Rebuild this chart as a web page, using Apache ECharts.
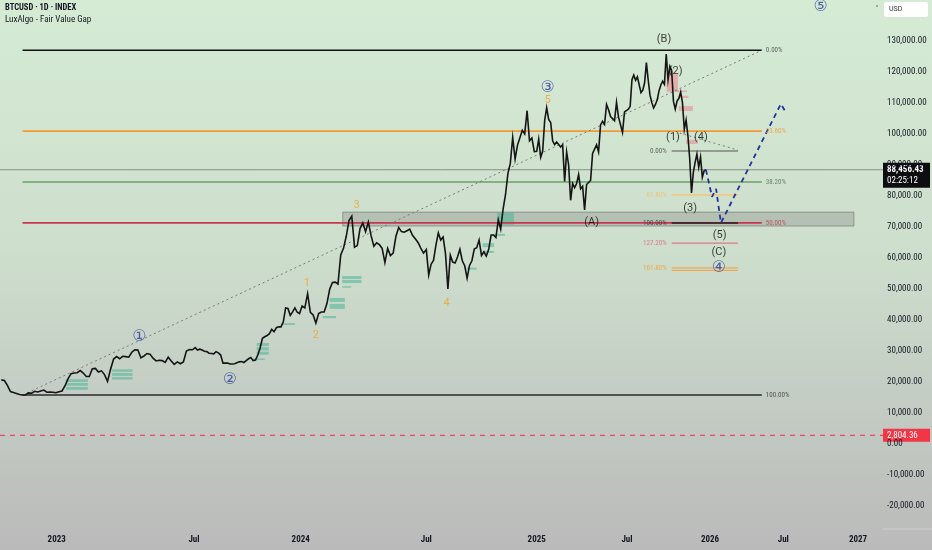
<!DOCTYPE html>
<html><head><meta charset="utf-8">
<script src="https://cdn.jsdelivr.net/npm/echarts@6/dist/echarts.min.js"></script>
<style>html,body{margin:0;padding:0;background:#c8d8c8;} #c{width:932px;height:550px;}</style>
</head><body><div id="c"></div>
<script>
// ---- time scale of the picture (anchor dates and where the axis places them) ----
const axisAnchorDates = ['2023-01-01','2023-07-01','2024-01-01','2024-07-01','2025-01-01','2025-07-01','2026-01-01','2026-07-01','2027-01-01'];
const axisAnchorPos   = [56.7, 194, 300.7, 426.3, 536.7, 627, 710, 783.3, 858];
const xTickLabels     = ['2023','Jul','2024','Jul','2025','Jul','2026','Jul','2027'];
const yTickValues     = [-20000,-10000,0,10000,20000,30000,40000,50000,60000,70000,80000,90000,100000,110000,120000,130000];

// ---- BTCUSD price, sampled every 4 days from the start date ----
const priceStart = '2022-10-20';
const priceStepDays = 4;
const prices2022 = [20700,20500,18900,16900,16600,16300,16000,15800,15900,16500,16400,17000,16800,17100,17400,16700,16800,16700,16550];
const prices2023 = [
  16850,17100,18800,21100,22700,22900,23000,
  23700,22900,21800,21800,24300,24400,23200,
  23600,22400,20200,24100,27400,28200,27500,28300,
  28200,28000,29600,30400,30300,27800,28400,29200,
  29000,27700,26800,27000,26900,26300,28000,
  26800,25700,26500,25900,26500,30000,30500,30400,
  31100,30300,30600,30300,29900,29800,29300,29200,
  29100,29800,29400,28700,26100,26100,26100,
  25800,25800,25900,26200,26500,26600,26300,26900,
  27500,27900,26900,27100,28700,31000,34100,34600,
  35000,35600,37000,36200,37500,37800,37800,
  39400,43900,43700,41500,42600,43900,42500,42100];
const prices2024 = [
  44500,43900,48500,42500,41600,39000,42100,42600,
  42600,45300,49900,52100,52200,51600,61000,
  63100,67000,72100,73500,63500,64000,69500,71300,
  68500,71600,67200,63800,64900,64300,63100,
  58500,63100,60800,61600,67000,69800,68500,68300,
  68800,69300,67300,66200,65000,63200,61600,
  62700,54500,58000,59200,64100,68100,65800,66800,
  61400,50000,60900,58700,58400,60300,62800,59100,
  57500,53500,57600,59100,62900,63300,65800,
  60800,62000,60600,62800,67400,67400,66600,72300,
  69300,75800,80400,87200,90500,98900,91900,96400,
  98800,101200,100000,107500,97800,98700,94300];
const prices2025 = [
  94400,98300,92500,94500,104400,108500,104700,103700,
  97700,96600,97400,97500,95800,96500,84700,
  94200,90000,78600,84000,82700,84000,86900,82300,
  83100,75500,83700,83600,85000,93700,93700,
  96500,94200,102900,104100,103100,109500,107800,105600,
  105800,104300,110200,105400,104800,100500,107100,107100,
  108000,108900,117500,119000,117300,118400,118000,
  113300,114100,116500,123000,117400,112500,110100,108400,
  109500,111000,113900,115800,117000,116000,125800,117500,
  121800,120500,110500,108000,110600,111500,113500,
  110000,101500,104500,99500,92000,81000,87500,90800,
  93500,89300,92500,86000,88100,88456];
const lastPrice = 88456.43;
const lastPriceText = '88,456.43';
const countdownText = '02:25:12';
const alertPrice = 2804.36;
const alertPriceText = '2,804.36';

// ---- Fibonacci retracement (Nov 2022 low -> top) ----
const fib1Dates  = ['2022-11-17','2026-05-09'];
const fib1Values = [127000,100900,84500,71300,15800];
const fib1Labels = ['0.00%','23.60%','38.20%','50.00%','100.00%'];
// ---- Fibonacci extension (small) ----
const fib2Dates  = ['2025-10-08','2026-03-11'];
const fib2Values = [94500,80300,71300,64800,56800,56000];
const fib2Labels = ['0.00%','61.80%','100.00%','127.20%','161.80%',''];
// dotted diagonals of the two tools
const fib1Diag = [['2022-11-17',15800],['2026-05-09',127000]];
const fib2Diag = [['2025-10-26',100300],['2026-03-11',94800]];

// ---- projected path ----
const projection = [['2025-12-23',88456],['2026-01-06',79700],['2026-01-16',82300],['2026-01-28',71300],['2026-06-25',109700],['2026-07-08',106800]];

// ---- zones [start, end, top, bottom] ----
const grayZone = [['2024-03-02','2026-12-22',74800,70300]];
const fvgBull = [
  ['2023-01-13','2023-02-11',20900,20000],['2023-01-13','2023-02-11',19700,18800],['2023-01-13','2023-02-11',18400,17500],
  ['2023-03-15','2023-04-11',24100,23300],['2023-03-15','2023-04-11',22900,22000],['2023-03-15','2023-04-11',21600,20800],
  ['2023-10-17','2023-11-07',32600,31600],['2023-10-17','2023-11-07',31200,30200],['2023-10-17','2023-11-07',29800,28800],
  ['2023-10-10','2023-10-31',27600,27100],
  ['2023-11-29','2023-12-22',39000,38400],
  ['2024-02-02','2024-02-21',41300,40600],
  ['2024-02-12','2024-03-05',47100,45800],['2024-02-12','2024-03-05',45200,43600],
  ['2024-03-01','2024-03-29',54200,53200],['2024-03-01','2024-03-29',52900,51900],
  ['2024-03-01','2024-03-14',50900,50400],
  ['2024-09-06','2024-09-23',56900,56200],
  ['2024-10-03','2024-10-22',64800,63500],['2024-10-03','2024-10-22',62300,61600],
  ['2024-10-20','2024-11-09',67800,67100],
  ['2024-10-27','2024-11-24',74500,70700]];
const fvgBear = [
  ['2025-09-27','2025-10-22',119700,113600],
  ['2025-10-17','2025-11-11',114000,113500],
  ['2025-10-25','2025-11-14',112300,111600],
  ['2025-10-24','2025-11-24',109000,107400],
  ['2025-11-09','2025-12-05',98100,96800]];

// ---- wave labels [text, date, value] ----
const waveLabels = [['(B)','2025-09-21',130650],['(2)','2025-10-17',120300],['(1)','2025-10-11',99000],['(4)','2025-12-12',99000],
  ['(3)','2025-11-18',76100],['(A)','2025-04-21',71600],['(5)','2026-01-25',67400],['(C)','2026-01-23',61900]];
const circleLabels = [['④','2026-01-23',56800],['⑤','2026-10-01',141000],['③','2025-01-23',114800],['①','2023-04-20',34500],['②','2023-09-01',20650]];
const orangeLabels = [['5','2025-01-23',111000],['3','2024-03-22',77100],['1','2024-01-10',51900],['2','2024-01-23',35200],['4','2024-08-04',45500]];

// ---------------------------------------------------------------
const DAY = 86400000;
const anchorMs = axisAnchorDates.map(d => Date.parse(d + 'T00:00:00Z'));
function toXms(t){
  let i = 0;
  while (i < anchorMs.length - 2 && t > anchorMs[i+1]) i++;
  const f = (t - anchorMs[i]) / (anchorMs[i+1] - anchorMs[i]);
  return axisAnchorPos[i] + f * (axisAnchorPos[i+1] - axisAnchorPos[i]);
}
function toX(d){ return toXms(Date.parse(d + 'T00:00:00Z')); }
const anchorX = axisAnchorDates.map(toX);
const X_MIN = 0, X_MAX = 883;

const allPrices = prices2022.concat(prices2023, prices2024, prices2025);
const startMs = Date.parse(priceStart + 'T00:00:00Z');
const priceData = allPrices.map((p, i) => [toXms(startMs + i * priceStepDays * DAY), p]);

const narrow = "'Liberation Sans Narrow','Roboto Condensed','Roboto',sans-serif";
const series = [];
function seg(points, color, width, type, z){
  series.push({type:'line', data: points, symbol:'none', silent:true, animation:false, z: z || 3,
    lineStyle:{color: color, width: width, type: type || 'solid'}});
}
function texts(items, labelStyle){
  series.push({type:'scatter', symbolSize:0, silent:true, animation:false, z:10,
    data: items.map(it => ({name: it[0], value: [toX(it[1]), it[2]]})),
    label: Object.assign({show:true, position:'inside', formatter:'{b}'}, labelStyle)});
}

// zones
const areas = [];
grayZone.forEach(b => areas.push([{xAxis: toX(b[0]), yAxis: b[2], itemStyle:{color:'rgba(110,110,110,0.28)', borderColor:'rgba(80,80,80,0.45)', borderWidth:1}}, {xAxis: toX(b[1]), yAxis: b[3]}]));
fvgBull.forEach(b => areas.push([{xAxis: toX(b[0]), yAxis: b[2], itemStyle:{color:'rgba(72,180,150,0.55)'}}, {xAxis: toX(b[1]), yAxis: b[3]}]));
fvgBear.forEach(b => areas.push([{xAxis: toX(b[0]), yAxis: b[2], itemStyle:{color:'rgba(240,120,135,0.5)'}}, {xAxis: toX(b[1]), yAxis: b[3]}]));

// horizontal price lines across the whole pane
seg([[X_MIN, lastPrice],[X_MAX, lastPrice]], '#8e8e8e', 1, 'solid', 2);
seg([[X_MIN, alertPrice],[X_MAX, alertPrice]], '#f0465e', 1.2, [5,5], 2);

// fib 1 lines
const fib1Colors = ['#111111','#f39a32','#3b7d3b','#c8374f','#2a2a2a'];
const fib1Widths = [1.5,1.8,1.2,1.8,1.5];
fib1Values.forEach((v, i) => seg([[toX(fib1Dates[0]), v],[toX(fib1Dates[1]), v]], fib1Colors[i], fib1Widths[i]));
// fib 2 lines
const fib2Colors = ['#555555','#f3c673','#222222','#e0607a','#f4a040','#f4a040'];
const fib2Widths = [1,1.5,1.5,1,1,1];
fib2Values.forEach((v, i) => seg([[toX(fib2Dates[0]), v],[toX(fib2Dates[1]), v]], fib2Colors[i], fib2Widths[i], 'solid', 4));
// diagonals
seg(fib1Diag.map(p => [toX(p[0]), p[1]]), '#7a7a7a', 1, [2,3]);
seg(fib2Diag.map(p => [toX(p[0]), p[1]]), '#7a7a7a', 1, [2,3]);

// price
series.push({type:'line', data: priceData, symbol:'none', silent:true, animation:false, z:5,
  lineStyle:{color:'#151515', width:1.6, join:'miter'},
  markArea:{silent:true, data: areas}});

// projection
seg(projection.map(p => [toX(p[0]), p[1]]), '#23339a', 1.8, [5,4], 6);

// fib labels
series.push({type:'scatter', symbolSize:0, silent:true, animation:false, z:10,
  data: fib1Values.map((v, i) => ({name: fib1Labels[i], value:[toX(fib1Dates[1]), v], label:{color: ['#444','#f39a32','#4e6b4e','#c8374f','#333'][i]}})),
  label:{show:true, position:'right', distance:4, formatter:'{b}', fontSize:7, fontFamily: narrow}});
series.push({type:'scatter', symbolSize:0, silent:true, animation:false, z:10,
  data: fib2Values.map((v, i) => ({name: fib2Labels[i], value:[toX(fib2Dates[0]), v], label:{color: ['#444','#f0c060','#333','#e0607a','#f39a2a','#f39a2a'][i]}})),
  label:{show:true, position:'left', distance:5, formatter:'{b}', fontSize:7, fontFamily: narrow}});

texts(waveLabels, {color:'#111', fontSize:11, fontFamily:'Roboto, sans-serif'});
texts(circleLabels, {color:'#2b3c9e', fontSize:16, fontFamily:"'DejaVu Sans', sans-serif"});
texts(orangeLabels, {color:'#f4a125', fontSize:11, fontFamily:'Roboto, sans-serif'});

const chart = echarts.init(document.getElementById('c'), null, {renderer:'canvas'});
const option = {
  animation:false,
  backgroundColor: new echarts.graphic.LinearGradient(0,0,0,1,[
    {offset:0, color:'#d5ebd4'},{offset:0.45, color:'#cedfcd'},{offset:1, color:'#bababa'}]),
  grid:{left:0, right:49, top:0, bottom:21, containLabel:false, outerBoundsMode:'none'},
  xAxis:{type:'value', min:X_MIN, max:X_MAX, splitLine:{show:false}, axisLine:{show:false}, axisTick:{show:false},
    axisLabel:{customValues: anchorX, margin:6, color:'#131722', fontSize:9, fontWeight:'bold', fontFamily: narrow,
      formatter: v => { let k = 0, best = 1e9; anchorX.forEach((a, i) => { if (Math.abs(a - v) < best){ best = Math.abs(a - v); k = i; } }); return xTickLabels[k]; }}},
  yAxis:{type:'value', position:'right', min:-27400, max:143200, splitLine:{show:false}, axisLine:{show:false},
    axisTick:{show:false},
    axisLabel:{customValues: yTickValues, margin:4, color:'#131722', fontSize:9, fontFamily: narrow,
      formatter: v => v.toLocaleString('en-US',{minimumFractionDigits:2, maximumFractionDigits:2})}},
  series: series
};
chart.setOption(option);

const py = chart.convertToPixel({yAxisIndex:0}, lastPrice);
const pr = chart.convertToPixel({yAxisIndex:0}, alertPrice);
chart.setOption({graphic:[
  {type:'text', left:5, top:3, style:{text:'BTCUSD · 1D · INDEX', fill:'#131722', font:"bold 8.5px " + narrow}},
  {type:'text', left:5, top:15, style:{text:'LuxAlgo - Fair Value Gap', fill:'#131722', font:"9px " + narrow}},
  {type:'rect', shape:{x:884, y:2, width:44, height:15, r:2}, style:{fill:'#ffffff'}},
  {type:'text', x:889, y:9.5, style:{text:'USD', fill:'#333', font:"7px Roboto, sans-serif", verticalAlign:'middle'}},
  {type:'circle', shape:{cx:877, cy:6, r:0.8}, style:{fill:'#555'}},
  {type:'rect', shape:{x:883, y:py-7, width:47, height:25}, style:{fill:'#0e0e10'}},
  {type:'text', x:887, y:py, style:{text:lastPriceText, fill:'#ffffff', font:"bold 9px " + narrow, verticalAlign:'middle'}},
  {type:'text', x:887, y:py+11, style:{text:countdownText, fill:'#ffffff', font:"9px " + narrow, verticalAlign:'middle'}},
  {type:'rect', shape:{x:883, y:pr-6.5, width:47, height:13}, style:{fill:'#f23645'}},
  {type:'text', x:887, y:pr, style:{text:alertPriceText, fill:'#ffffff', font:"9px " + narrow, verticalAlign:'middle'}},
  {type:'line', shape:{x1:883, y1:529, x2:932, y2:529}, style:{stroke:'#cfcfcf', lineWidth:1}}
]});
</script>
</body></html>
